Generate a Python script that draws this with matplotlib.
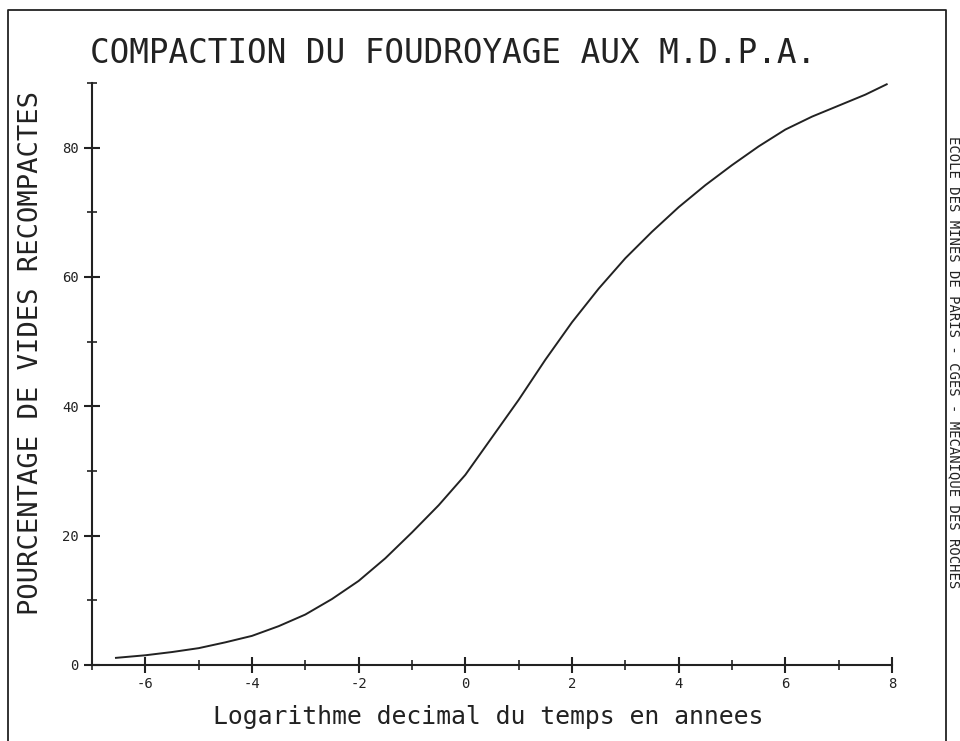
import numpy as np
import matplotlib
matplotlib.use('Agg')
import matplotlib.pyplot as plt
from matplotlib.lines import Line2D

# Valeurs (log10 du temps en annees, % de vides recompactes)
log_temps = [-6.55, -6.0, -5.5, -5.0, -4.5, -4.0, -3.5, -3.0, -2.5, -2.0, -1.5, -1.0,
             -0.5, 0.0, 0.5, 1.0, 1.5, 2.0, 2.5, 3.0, 3.5, 4.0, 4.5, 5.0, 5.5, 6.0,
             6.5, 7.0, 7.5, 7.9]
pourcentage = [1.1, 1.5, 2.0, 2.6, 3.5, 4.5, 6.0, 7.8, 10.2, 13.0, 16.5, 20.5,
               24.7, 29.4, 35.2, 41.0, 47.2, 53.0, 58.2, 62.9, 67.0, 70.8, 74.2, 77.3,
               80.2, 82.8, 84.8, 86.5, 88.2, 89.8]

x_ticks = [-6, -4, -2, 0, 2, 4, 6, 8]
y_ticks = [0, 20, 40, 60, 80]

titre = 'COMPACTION DU FOUDROYAGE AUX M.D.P.A.'
x_label = 'Logarithme decimal du temps en annees'
y_label = 'POURCENTAGE DE VIDES RECOMPACTES'
cartouche = 'ECOLE DES MINES DE PARIS - CGES - MECANIQUE DES ROCHES'

police = 'DejaVu Sans Mono'
encre = '#222222'

fig = plt.figure(figsize=(9.6, 7.41), dpi=100, facecolor='w')
ax = fig.add_axes([0.0958, 0.1026, 0.8334, 0.7854])

ax.plot(log_temps, pourcentage, color=encre, lw=1.4)

ax.set_xlim(-7, 8)
ax.set_ylim(0, 90)

# axes style table tracante : seulement gauche et bas
for cote in ['top', 'right']:
    ax.spines[cote].set_visible(False)
for cote in ['left', 'bottom']:
    ax.spines[cote].set_linewidth(1.5)
    ax.spines[cote].set_color(encre)

ax.set_xticks(x_ticks)
ax.set_xticks(np.arange(-7, 9, 1), minor=True)
ax.set_yticks(y_ticks)
ax.set_yticks([10, 30, 50, 70, 90], minor=True)
ax.tick_params(which='major', direction='inout', length=11, width=1.5, color=encre,
               labelsize=10)
ax.tick_params(which='minor', direction='inout', length=7, width=1.2, color=encre)
ax.set_xticklabels([str(v) for v in x_ticks], family=police, color=encre)
ax.set_yticklabels([str(v) for v in y_ticks], family=police, color=encre)
ax.tick_params(axis='x', pad=3)
ax.tick_params(axis='y', pad=4)

fig.text(0.472, 0.928, titre, ha='center', va='center', family=police,
         fontsize=23.5, color=encre)
fig.text(0.032, 0.523, y_label, rotation=90, ha='center', va='center',
         family=police, fontsize=19.5, color=encre)
fig.text(0.509, 0.032, x_label, ha='center', va='center', family=police,
         fontsize=17.8, color=encre)
fig.text(0.993, 0.511, cartouche, rotation=-90, ha='center', va='center',
         family=police, fontsize=10, color=encre)

# cadre de la feuille
cadre_x = [8 / 960, 8 / 960, 946 / 960, 946 / 960]
cadre_y = [0.0, 1 - 10 / 741, 1 - 10 / 741, 0.0]
fig.add_artist(Line2D(cadre_x, cadre_y, transform=fig.transFigure, color=encre, lw=1.3))

fig.savefig('out.png', dpi=100, facecolor='w')
